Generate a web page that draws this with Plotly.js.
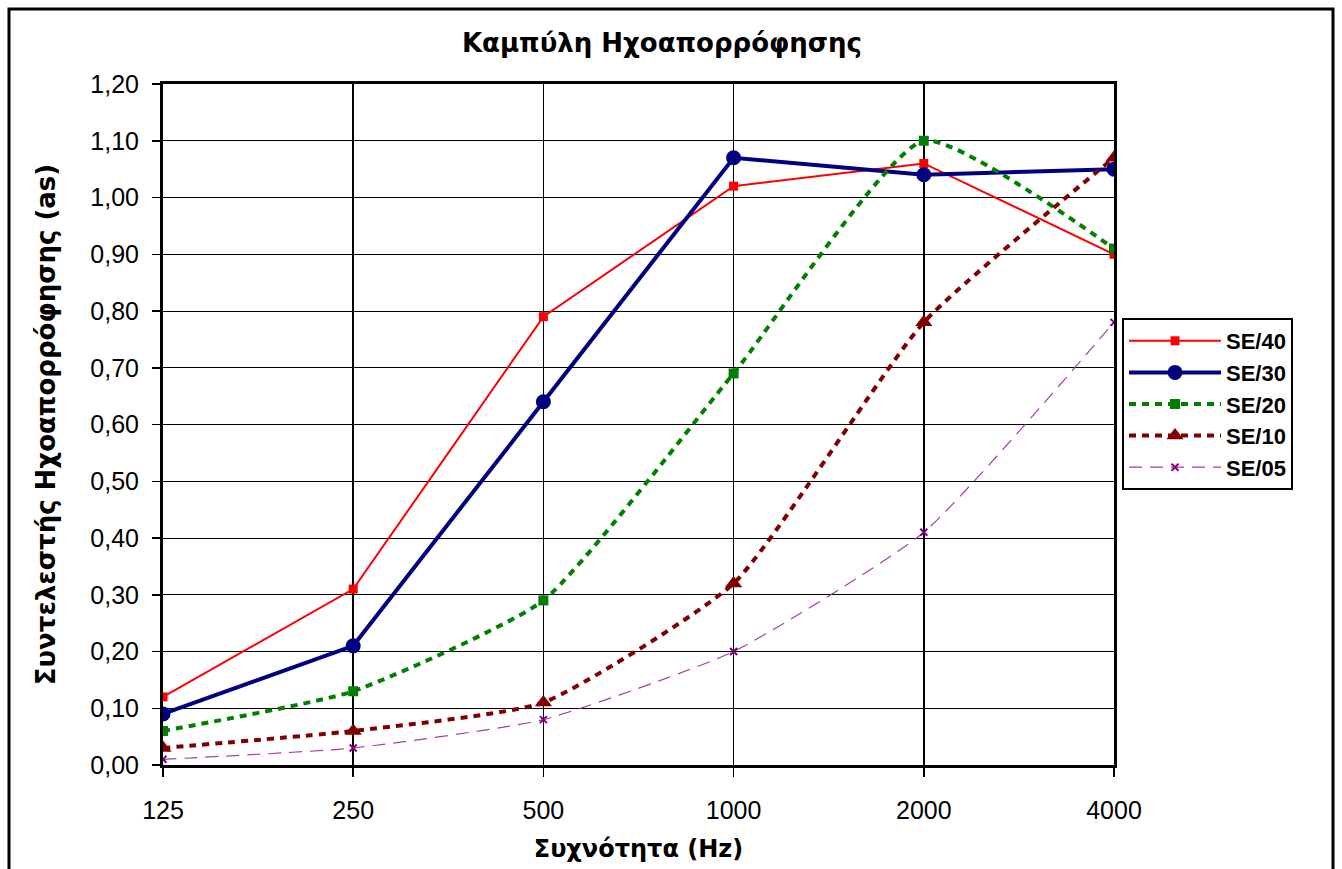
<!DOCTYPE html>
<html>
<head>
<meta charset="utf-8">
<script src="https://cdn.plot.ly/plotly-3.0.1.min.js"></script>
<style>
html,body{margin:0;padding:0;background:#fff;}
#chart{width:1342px;height:869px;}
</style>
</head>
<body>
<div id="chart"></div>
<script>
const frequencies = ['125', '250', '500', '1000', '2000', '4000'];
const se40 = [0.12, 0.31, 0.79, 1.02, 1.06, 0.90];
const se30 = [0.09, 0.21, 0.64, 1.07, 1.04, 1.05];
const se20 = [0.06, 0.13, 0.29, 0.69, 1.10, 0.91];
const se10 = [0.03, 0.06, 0.11, 0.32, 0.78, 1.07];
const se05 = [0.01, 0.03, 0.08, 0.20, 0.41, 0.78];
const seriesNames = ['SE/40', 'SE/30', 'SE/20', 'SE/10', 'SE/05'];

const FONT = 'Arial, "Liberation Sans", sans-serif';
const TFONT = '"DejaVu Sans", Verdana, sans-serif';

const traces = [
  {x: frequencies, y: se40, name: seriesNames[0], mode: 'lines+markers',
   line: {color: '#FF0000', width: 2},
   marker: {symbol: 'square', size: 9, color: '#FF0000'}},
  {x: frequencies, y: se30, name: seriesNames[1], mode: 'lines+markers',
   line: {color: '#000080', width: 4},
   marker: {symbol: 'circle', size: 15, color: '#000080'}},
  {x: frequencies, y: se20, name: seriesNames[2], mode: 'lines+markers',
   line: {color: '#008000', width: 4, dash: '7px,6px', shape: 'spline', smoothing: 0.5},
   marker: {symbol: 'square', size: 10, color: '#008000'}},
  {x: frequencies, y: se10, name: seriesNames[3], mode: 'lines+markers',
   line: {color: '#800000', width: 4, dash: '7px,6px', shape: 'spline', smoothing: 0.5},
   marker: {symbol: 'triangle-up', size: 15, color: '#800000'}},
  {x: frequencies, y: se05, name: seriesNames[4], mode: 'lines+markers',
   line: {color: '#A040A8', width: 1.2, dash: '13px,8px', shape: 'spline', smoothing: 0.5},
   marker: {symbol: 'x-thin', size: 7, color: '#800080', line: {color: '#800080', width: 2}}}
];

const L = 163, R = 1114, T = 84, B = 765, W = 1342, H = 869;
const pw = R - L, ph = B - T;
const px = v => (v - L) / pw;
const py = v => (B - v) / ph;

const layout = {
  width: W, height: H,
  margin: {l: L, r: W - R, t: T, b: H - B, pad: 0},
  paper_bgcolor: '#ffffff',
  plot_bgcolor: '#ffffff',
  separators: ', ',
  font: {family: FONT, color: '#000', size: 25},
  title: {
    text: 'Καμπύλη Ηχοαπορρόφησης',
    font: {family: TFONT, size: 26, weight: 'bold', color: '#000'},
    x: 662 / W, xanchor: 'center', xref: 'container',
    y: 1 - 43 / H, yanchor: 'middle', yref: 'container'
  },
  xaxis: {
    type: 'category',
    range: [0, frequencies.length - 1],
    showgrid: true, gridcolor: '#000', gridwidth: 1.5,
    showline: true, linecolor: '#000', linewidth: 3, mirror: true,
    ticks: 'outside', ticklen: 9, tickwidth: 1.5, tickcolor: '#000',
    ticklabelstandoff: 12,
    tickfont: {family: FONT, size: 25, color: '#000'},
    zeroline: false, fixedrange: true,
    title: {text: 'Συχνότητα (Hz)', font: {family: TFONT, size: 24, weight: 'bold', color: '#000'}, standoff: 18}
  },
  yaxis: {
    range: [0, 1.2],
    dtick: 0.1, tick0: 0,
    tickformat: '.2f',
    showgrid: true, gridcolor: '#000', gridwidth: 1,
    showline: true, linecolor: '#000', linewidth: 3, mirror: true,
    ticks: 'outside', ticklen: 8, tickwidth: 1.5, tickcolor: '#000',
    ticklabelstandoff: 8,
    tickfont: {family: FONT, size: 25, color: '#000'},
    zeroline: false, fixedrange: true,
    title: {text: 'Συντελεστής Ηχοαπορρόφησης (as)', font: {family: TFONT, size: 26, weight: 'bold', color: '#000'}, standoff: 28}
  },
  legend: {
    x: px(1122), xanchor: 'left',
    y: py(404), yanchor: 'middle',
    bgcolor: '#ffffff',
    bordercolor: '#000', borderwidth: 2,
    font: {family: FONT, size: 22, weight: 'bold', color: '#000'},
    tracegroupgap: 0,
    itemwidth: 92,
    entrywidth: 104, entrywidthmode: 'pixels'
  },
  shapes: [{
    type: 'rect', xref: 'paper', yref: 'paper',
    x0: px(9), x1: px(1333), y0: py(890), y1: py(9),
    line: {color: '#000', width: 3}, fillcolor: 'rgba(0,0,0,0)', layer: 'above'
  }],
  showlegend: true
};

Plotly.newPlot('chart', traces, layout, {displayModeBar: false, staticPlot: true});
</script>
</body>
</html>
